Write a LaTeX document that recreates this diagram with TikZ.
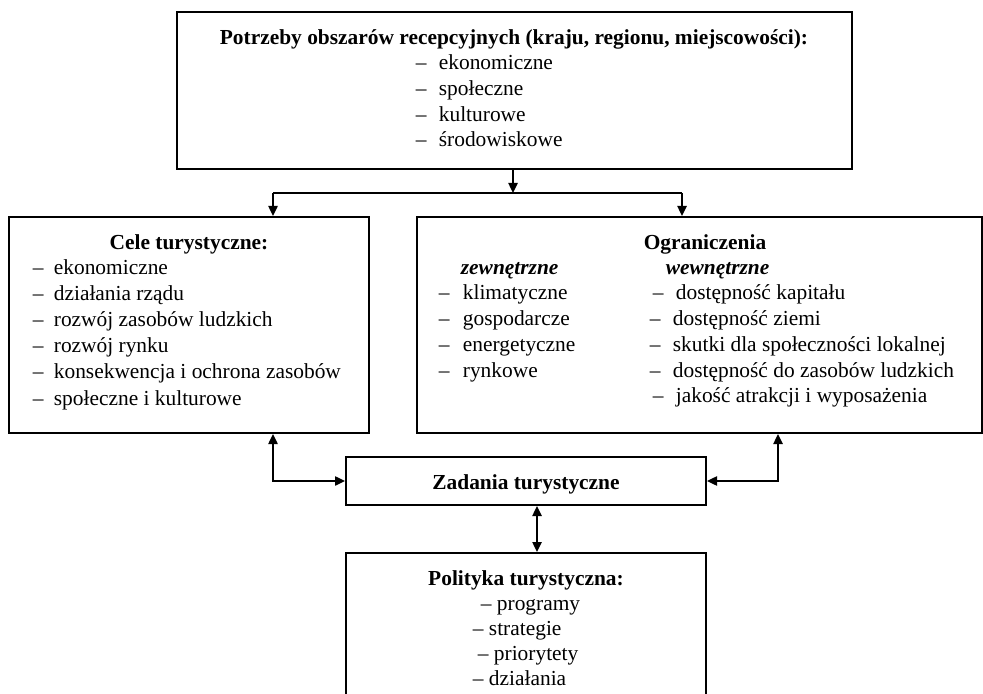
\documentclass[tikz,border=0pt]{standalone}
\usepackage{fontspec}
\setmainfont{Liberation Serif}
\usepackage{tikz}
\usetikzlibrary{arrows.meta,fit}

\newcommand{\myslnik}[1][11.5pt]{\makebox[#1][l]{–}}

\begin{document}
\begin{tikzpicture}[x=0.5pt, y=-0.5pt, line width=0.9pt,
	font=\fontsize{10.7}{12.8}\selectfont,
	ramka/.style={draw, line width=1pt, inner sep=0pt},
	tekst/.style={inner sep=0pt, anchor=base west},
	tytul/.style={inner sep=0pt, anchor=base, font=\fontsize{10.7}{12.8}\selectfont\bfseries},
	podtytul/.style={inner sep=0pt, anchor=base west, font=\fontsize{10.7}{12.8}\selectfont\bfseries\itshape},
	>={Triangle[length=5pt,width=4.6pt]}]
	\clip (0,0) rectangle (983,694);
	% ramki
	\node[ramka, fit={(177,12) (852,169)}] (potrzeby) {};
	\node[ramka, fit={(9,217) (369,433)}] (cele) {};
	\node[ramka, fit={(417,217) (982,433)}] (ogr) {};
	\node[ramka, fit={(346,457) (706,505)}] (zadania) {};
	\node[ramka, fit={(346,553) (706,730)}] (polityka) {};
	% potrzeby
	\node[tytul] (potrzebyT) at (514,45) {Potrzeby obszarów recepcyjnych (kraju, regionu, miejscowości):};
	\foreach \t [count=\i] in {ekonomiczne, społeczne, kulturowe, środowiskowe}
		\node[tekst] (pot\i) at (415, 44.4+25.6*\i) {\myslnik\t};
	% cele
	\node[tytul] (celeT) at (189,250) {Cele turystyczne:};
	\foreach \t [count=\i] in {ekonomiczne, działania rządu, rozwój zasobów ludzkich, rozwój rynku, konsekwencja i ochrona zasobów, społeczne i kulturowe}
		\node[tekst] (cel\i) at (32, 249+26*\i) {\myslnik[10.5pt]\t};
	% ograniczenia
	\node[tytul] (ogrT) at (705,250) {Ograniczenia};
	\node[podtytul] (zewnT) at (460,275) {zewnętrzne};
	\node[podtytul] (wewnT) at (665,275) {wewnętrzne};
	\foreach \t [count=\i] in {klimatyczne, gospodarcze, energetyczne, rynkowe}
		\node[tekst] (zew\i) at (438, 274.3+25.7*\i) {\myslnik[12pt]\t};
	\foreach \x/\t [count=\i] in {652/dostępność kapitału, 649/dostępność ziemi, 649/skutki dla społeczności lokalnej, 649/dostępność do zasobów ludzkich, 652/jakość atrakcji i wyposażenia}
		\node[tekst] (wew\i) at (\x, 274.3+25.7*\i) {\myslnik\t};
	% zadania
	\node[tytul] (zadaniaT) at (526,489) {Zadania turystyczne};
	% polityka
	\node[tytul] (politykaT) at (526,585) {Polityka turystyczna:};
	\foreach \x/\t [count=\i] in {480/programy, 472/strategie, 477/priorytety, 472/działania}
		\node[tekst] (pol\i) at (\x, 585+25*\i) {– \t};
	% polaczenia
	\coordinate (rozgal) at (513,193);
	\coordinate (lg) at (273,193);
	\coordinate (pg) at (682,193);
	\coordinate (ld) at (273,481);
	\coordinate (pd) at (778,481);
	\coordinate (sd) at (537,481);
	\draw[->] (potrzeby.south -| rozgal) -- (rozgal);
	\draw (lg) -- (pg);
	\draw[->] (lg) -- (lg |- cele.north);
	\draw[->] (pg) -- (pg |- ogr.north);
	\draw[<->] (ld |- cele.south) |- (zadania.west);
	\draw[<->] (pd |- ogr.south) |- (zadania.east);
	\draw[<->] (sd |- zadania.south) -- (sd |- polityka.north);
\end{tikzpicture}
\end{document}
